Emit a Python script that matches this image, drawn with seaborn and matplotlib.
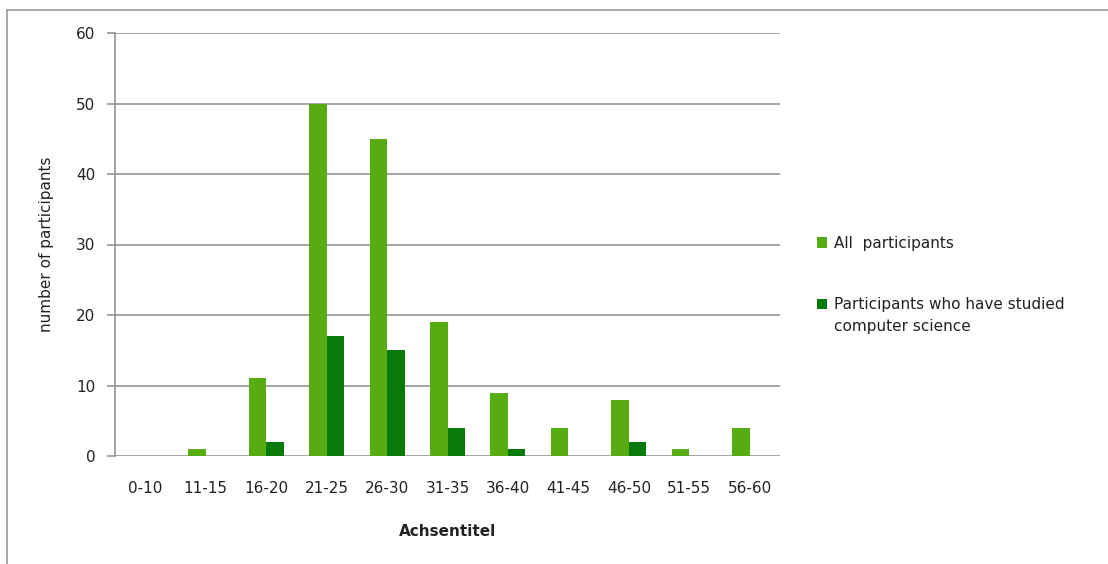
import matplotlib
matplotlib.use("Agg")
import matplotlib.pyplot as plt
import seaborn as sns
import pandas as pd
from matplotlib.patches import Patch, Rectangle
from matplotlib.lines import Line2D
from matplotlib.legend_handler import HandlerPatch

categories = ["0-10", "11-15", "16-20", "21-25", "26-30", "31-35", "36-40", "41-45", "46-50", "51-55", "56-60"]
all_participants = [0, 1, 11, 50, 45, 19, 9, 4, 8, 1, 4]
cs_participants = [0, 0, 2, 17, 15, 4, 1, 0, 2, 0, 0]
series_names = ["All  participants", "Participants who have studied\ncomputer science"]
colors = ["#56ac12", "#077a0b"]

df = pd.DataFrame({
    "age": categories * 2,
    "count": all_participants + cs_participants,
    "series": [series_names[0]] * len(categories) + [series_names[1]] * len(categories),
})

sns.set_style("white")
plt.rcParams["font.family"] = ["DejaVu Sans"]

fig = plt.figure(figsize=(11.08, 5.64), dpi=100)
ax = fig.add_axes([115 / 1108, 1 - 456 / 564, 665 / 1108, 423 / 564])

sns.barplot(data=df, x="age", y="count", hue="series", palette=colors,
            width=0.58, ax=ax, legend=False, saturation=1, edgecolor="none")

fs = 11
ax.set_ylim(0, 60)
ax.set_yticks([0, 10, 20, 30, 40, 50, 60])
ax.yaxis.grid(True, color="#8c8c8c", linewidth=1.1)
ax.set_axisbelow(True)
for s in ["top", "right", "bottom"]:
    ax.spines[s].set_visible(False)
ax.spines["left"].set_color("#8c8c8c")
ax.spines["left"].set_linewidth(1.1)
ax.tick_params(axis="y", which="major", length=6, width=1.1, color="#8c8c8c",
               pad=8, labelsize=fs, labelcolor="#222222", left=True)
ax.tick_params(axis="x", length=0, pad=18, labelsize=fs, labelcolor="#222222")

ax.set_xlabel("Achsentitel", fontsize=fs, fontweight="bold", labelpad=20, color="#222222")
ax.set_ylabel("number of participants", fontsize=fs, labelpad=16, color="#222222")


class TopAlignedHandler(HandlerPatch):
    def __init__(self, shift=0.0, **kw):
        super().__init__(**kw)
        self.shift = shift

    def create_artists(self, legend, orig_handle, xdescent, ydescent, width, height, fontsize, trans):
        p = Rectangle((-xdescent, -ydescent + self.shift), width, height,
                      facecolor=orig_handle.get_facecolor(), edgecolor="none")
        p.set_transform(trans)
        return [p]


handles = [Patch(facecolor=c, edgecolor="none") for c in colors]
leg = fig.legend(handles, series_names, loc="upper left", bbox_to_anchor=(803 / 1108, 1 - 222 / 564),
                 frameon=False, fontsize=fs, handlelength=0.7, handleheight=0.7,
                 handletextpad=0.4, labelspacing=3.0, labelcolor="#222222",
                 handler_map={handles[1]: TopAlignedHandler(shift=8.5)})
for t in leg.get_texts():
    t.set_linespacing(1.6)

# outer chart frame
fig.add_artist(Line2D([7 / 1108, 7 / 1108], [0, 1 - 10 / 564], transform=fig.transFigure,
                      color="#9a9a9a", linewidth=1.2))
fig.add_artist(Line2D([7 / 1108, 1], [1 - 10 / 564, 1 - 10 / 564], transform=fig.transFigure,
                      color="#9a9a9a", linewidth=1.2))

fig.savefig("out.png", dpi=100, facecolor="white")
